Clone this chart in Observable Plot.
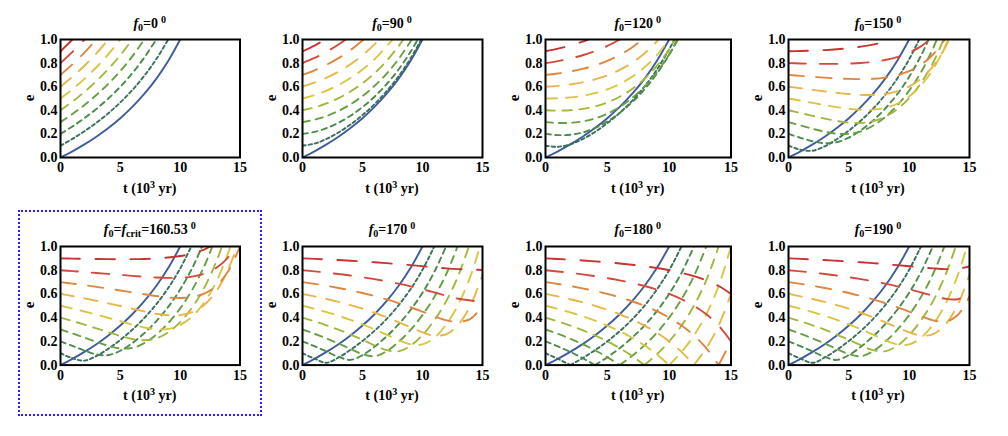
<!DOCTYPE html>
<html><head><meta charset="utf-8">
<script src="https://cdn.jsdelivr.net/npm/d3@7"></script>
<script src="https://cdn.jsdelivr.net/npm/@observablehq/plot@0.6"></script>
<style>
body{margin:0;background:#fff;}
#wrap{position:relative;width:1008px;height:436px;overflow:hidden;font-family:'Liberation Serif','Times New Roman',serif;font-weight:bold;color:#000;}
.ttl,.xl{position:absolute;font-size:14px;white-space:nowrap;transform:translateX(-50%);line-height:1;}
.sb{font-size:0.72em;position:relative;top:0.3em;}
.sp{font-size:0.72em;position:relative;top:-0.5em;}
.ttl .sp{margin-left:3px;}
.yl{position:absolute;font-size:15px;line-height:1;transform:translate(-50%,-50%) rotate(-90deg);}
.box{position:absolute;left:18px;top:210px;width:240px;height:202px;border:2px dotted #2323ee;}
.pl{position:absolute;}
</style></head><body><div id="wrap"><div class="box"></div></div>
<script>
// ---------- data ----------
const T = [0,1,2,3,4,5,6,7,8,9,10,11,12,13,14,15];
const E0 = [0.1,0.2,0.3,0.4,0.5,0.6,0.7,0.8,0.9];
const xTicks = [0,5,10,15];
const yTicks = [0,0.2,0.4,0.6,0.8,1.0];
const titles = ["0","90","120","150","crit","170","180","190"];
const eBlue = [0,.0526,.1111,.1765,.25,.3333,.4286,.5385,.6667,.8182,1.0];

// e values at t = 0,1,2,... ; end = time where e reaches 1 (null if at an integer step or never)
const e_f0 = [
 [.1,.1579,.2222,.2941,.375,.4667,.5714,.6923,.8333,1],
 [.2,.2632,.3333,.4118,.5,.6,.7143,.8462,1],
 [.3,.3684,.4444,.5294,.625,.7333,.8571,1],
 [.4,.4737,.5556,.6471,.75,.8667,1],
 [.5,.5789,.6667,.7647,.875,1],
 [.6,.6842,.7778,.8824,1],
 [.7,.7895,.8889,1],
 [.8,.8947,1],
 [.9,1]];
const end_f0 = [null,null,null,null,null,null,null,null,null];

const e_f90 = [
 [.1,.1177,.1571,.2121,.2795,.359,.4518,.56,.6872,.8381],
 [.2,.217,.2485,.2941,.3536,.4269,.5151,.6202,.7454,.8954],
 [.3,.3201,.3514,.3946,.4507,.5207,.6061,.7092,.8333,.9833],
 [.4,.4243,.4581,.5026,.559,.6289,.7143,.8177,.9428],
 [.5,.5289,.5666,.6141,.6731,.7454,.833,.939],
 [.6,.6338,.6759,.7276,.7906,.8667,.9583],
 [.7,.7387,.7857,.8422,.91,.9911],
 [.8,.8437,.8958,.9576],
 [.9,.9488]];
const end_f90 = [9.9,9.6,9.1,8.4,7.5,6.4,5.1,3.6,1.9];

const e_f120 = [
 [.1,.0912,.1111,.1556,.2165,.2906,.378,.4804,.6009,.7441,.9165],
 [.2,.1898,.1925,.2121,.25,.3055,.378,.4679,.5774,.71,.8718],
 [.3,.293,.294,.3057,.3307,.3712,.4286,.5044,.6009,.7216,.8718],
 [.4,.3974,.4006,.4118,.433,.4667,.5151,.5808,.6667,.7767,.9165],
 [.5,.5021,.5092,.5228,.5449,.5774,.6227,.6837,.7638,.8672,1],
 [.6,.607,.6186,.6363,.6614,.696,.7423,.8031,.8819,.9833],
 [.7,.712,.7286,.751,.7806,.8192,.869,.9326],
 [.8,.8171,.8389,.8665,.9014,.9452,1],
 [.9,.9222,.9493,.9825]];
const end_f120 = [10.42,10.67,10.71,10.5,null,9.14,7.85,null,3.45];

const e_f150 = [
 [.1,.0652,.0575,.095,.1549,.2278,.3131,.4125,.5289,.6669,.8328],
 [.2,.167,.1377,.1208,.1294,.1681,.2307,.3125,.4131,.5351,.6835,.8663],
 [.3,.2715,.2435,.2187,.2019,.2004,.2218,.2693,.3422,.4404,.5664,.7259,.9295],
 [.4,.3764,.3526,.3298,.3098,.296,.2933,.3077,.3451,.4095,.5043,.6342,.8074],
 [.5,.4815,.4627,.4443,.4272,.4131,.4045,.4053,.4203,.4556,.5176,.6134,.7516,.9458],
 [.6,.5866,.5731,.56,.5479,.5378,.5311,.5302,.5383,.56,.6013,.6701,.7765,.9346],
 [.7,.6918,.6838,.6765,.6702,.6659,.6644,.6673,.6771,.6969,.7315,.7877,.8751],
 [.8,.797,.7946,.7933,.7934,.7956,.8009,.8105,.8262,.8508,.8881,.9438],
 [.9,.9022,.9055,.9103,.9171,.9264,.9393,.9569,.981]];
const end_f150 = [10.83,11.61,12.29,12.85,13.23,13.32,12.95,11.72,8.61];

const e_fcrit = [
 [.1,.0583,.0376,.0764,.1386,.2123,.2977,.3967,.5126,.6496,.8142],
 [.2,.1619,.1232,.0906,.0846,.1209,.1855,.2687,.3695,.4906,.637,.8167],
 [.3,.2667,.2316,.1956,.1623,.1403,.1449,.1853,.2567,.3542,.4782,.6339,.8314],
 [.4,.3718,.3417,.3098,.2771,.2456,.22,.2093,.2255,.2763,.3626,.4852,.6493,.8678],
 [.5,.477,.4523,.4259,.3981,.3695,.3415,.3172,.3022,.3055,.3382,.4095,.5263,.6979,.943],
 [.6,.5822,.5631,.5427,.521,.4983,.4751,.4525,.4329,.4201,.421,.4458,.5073,.6201,.8031],
 [.7,.6874,.674,.6598,.6447,.629,.6128,.5969,.5822,.5707,.5658,.5732,.6023,.6673,.7891,1],
 [.8,.7927,.785,.777,.7688,.7606,.7525,.745,.739,.7356,.7369,.7464,.7702,.8181,.9071],
 [.9,.8979,.896,.8944,.8932,.8927,.8932,.8951,.8993,.907,.9197,.9405,.9739]];
const end_fcrit = [10.93,11.83,12.69,13.49,14.19,14.74,null,14.65,12.54];

const e_f170 = [
 [.1,.0542,.0194,.064,.1287,.2033,.289,.3879,.5034,.6399,.8038],
 [.2,.159,.1144,.0687,.0436,.0845,.1553,.2414,.3433,.4644,.61,.7883],
 [.3,.2641,.2247,.1818,.1359,.0922,.0747,.1161,.1947,.2965,.4222,.5774,.7725],
 [.4,.3693,.3356,.2984,.2575,.2131,.1669,.1264,.1162,.1623,.2536,.3796,.5437,.7581],
 [.5,.4746,.4466,.4156,.3813,.3433,.3016,.2566,.2113,.1757,.1743,.2315,.3456,.5141,.7501],
 [.6,.5798,.5576,.533,.5057,.4753,.4414,.4038,.3624,.3186,.2765,.2487,.2615,.3423,.5029,.7608],
 [.7,.6851,.6686,.6505,.6303,.6078,.5827,.5546,.5231,.4881,.45,.4109,.3772,.3651,.39,.5],
 [.8,.7903,.7797,.768,.755,.7407,.7246,.7067,.6866,.6642,.6392,.6121,.5841,.5592,.545,.535],
 [.9,.8956,.8908,.8856,.8799,.8737,.8669,.8594,.8514,.8427,.8335,.8241,.8155,.8095,.806,.802]];
const end_f170 = [10.98,11.96,12.92,13.86,14.78,null,null,null,null];

const e_f180 = [
 [.1,.0526,0,.0588,.125,.2,.2857,.3846,.5,.6364,.8,1],
 [.2,.1579,.1111,.0588,0,.0667,.1429,.2308,.3333,.4545,.6,.7778,1],
 [.3,.2632,.2222,.1765,.125,.0667,0,.0769,.1667,.2727,.4,.5556,.75,1],
 [.4,.3684,.3333,.2941,.25,.2,.1429,.0769,0,.0909,.2,.3333,.5,.7143,1],
 [.5,.4737,.4444,.4118,.375,.3333,.2857,.2308,.1667,.0909,0,.1111,.25,.4286,.6667,1],
 [.6,.5789,.5556,.5294,.5,.4667,.4286,.3846,.3333,.2727,.2,.1111,0,.1429,.3333,.6],
 [.7,.6842,.6667,.6471,.625,.6,.5714,.5385,.5,.4545,.4,.3333,.25,.1429,0,.2],
 [.8,.7895,.7778,.7647,.75,.7333,.7143,.6923,.6667,.6364,.6,.5556,.5,.4286,.3333,.2],
 [.9,.8947,.8889,.8824,.875,.8667,.8571,.8462,.8333,.8182,.8,.7778,.75,.7143,.6667,.6]];
const end_f180 = [null,null,null,null,null,null,null,null,null];

const e_f190 = [
 [.1,.0542,.0194,.064,.1287,.2033,.289,.3879,.5034,.6399,.8038],
 [.2,.159,.1144,.0687,.0436,.0845,.1553,.2414,.3433,.4644,.61,.7883],
 [.3,.2641,.2247,.1818,.1359,.0922,.0747,.1161,.1947,.2965,.4222,.5774,.7725],
 [.4,.3693,.3356,.2984,.2575,.2131,.1669,.1264,.1162,.1623,.2536,.3796,.5437,.7581],
 [.5,.4746,.4466,.4156,.3813,.3433,.3016,.2566,.2113,.1757,.1743,.2315,.3456,.5141,.7501],
 [.6,.5798,.5576,.533,.5057,.4753,.4414,.4038,.3624,.3186,.2765,.2487,.2615,.3423,.5029,.7608],
 [.7,.6851,.6686,.6505,.6303,.6078,.5827,.5546,.5231,.4881,.45,.4109,.3772,.3651,.42,.58],
 [.8,.7903,.7797,.768,.755,.7407,.7246,.7067,.6866,.6642,.6392,.6121,.5841,.5592,.555,.6],
 [.9,.8956,.8908,.8856,.8799,.8737,.8669,.8594,.8514,.8427,.8335,.8241,.8155,.8095,.812,.832]];
const end_f190 = [10.98,11.96,12.92,13.86,14.78,null,null,null,null];

// ---------- styles ----------
const blueColor = "#3f5c9c";
const colors = ["#3a6f5c","#4a8a4a","#66a040","#a2b73c","#d9c640","#e9b548","#e0853c","#d44a3a","#c9322f"];
const dashes = ["3.4,2.8","5.4,4.4","7.4,6","9.4,7.6","11.4,9.2","13.4,10.8","15.4,12.4","17.4,14","19.4,15.6"];

const panels = [
 {e:e_f0, end:end_f0}, {e:e_f90, end:end_f90}, {e:e_f120, end:end_f120}, {e:e_f150, end:end_f150},
 {e:e_fcrit, end:end_fcrit}, {e:e_f170, end:end_f170}, {e:e_f180, end:end_f180}, {e:e_f190, end:end_f190}];

const cols = [[60,239.5],[302,482],[545,730.5],[787.5,968.5]];
const rowsY = [[39.3,157.3],[245.7,364.3]];
const ML=40, MR=8, MT=6, MB=24;
const wrap = document.getElementById("wrap");

function curveRows(arr, end) {
  const out = []; let seg = 0;
  arr.forEach((v,i) => {
    out.push({k:seg, t:T[i], e:v});
    if (v === 0 && i > 0 && i < arr.length-1) { seg++; out.push({k:seg, t:T[i], e:v}); }
  });
  if (end != null) out.push({k:seg, t:end, e:1});
  return out;
}

panels.forEach((p, idx) => {
  const c = idx % 4, r = Math.floor(idx/4);
  const [x0,x1] = cols[c], [y0,y1] = rowsY[r];
  const PW = x1-x0, PH = y1-y0;
  const marks = [
    Plot.axisX({ticks:xTicks, tickSize:0, tickPadding:5, label:null}),
    Plot.axisY({ticks:yTicks, tickSize:0, tickPadding:3, tickFormat:d=>d.toFixed(1), label:null}),
    Plot.line(eBlue.map((v,i)=>({t:T[i], e:v})), {x:"t", y:"e", stroke:blueColor, strokeWidth:1.9, curve:"catmull-rom", clip:true})
  ];
  p.e.forEach((arr,j) => {
    marks.push(Plot.line(curveRows(arr, p.end[j]), {x:"t", y:"e", z:"k", stroke:colors[j], strokeWidth:1.9,
      strokeDasharray:dashes[j], curve:"catmull-rom", clip:true}));
  });
  marks.push(Plot.frame({stroke:"#000", strokeWidth:2}));
  const svg = Plot.plot({
    width:ML+PW+MR, height:MT+PH+MB, marginLeft:ML, marginRight:MR, marginTop:MT, marginBottom:MB,
    x:{domain:[0,15]}, y:{domain:[0,1]},
    style:{fontFamily:"'Liberation Serif','Times New Roman',serif", fontWeight:"bold", fontSize:"14px", color:"#000", background:"transparent", overflow:"visible"},
    marks
  });
  const d = document.createElement("div");
  d.className = "pl"; d.style.left = (x0-ML)+"px"; d.style.top = (y0-MT)+"px";
  d.appendChild(svg); wrap.appendChild(d);

  const cx = (x0+x1)/2;
  const tt = document.createElement("div");
  tt.className = "ttl"; tt.style.left = cx+"px"; tt.style.top = (y0-22.5)+"px";
  const lab = titles[idx];
  tt.innerHTML = lab === "crit"
    ? '<i>f</i><span class="sb">0</span>=<i>f</i><span class="sb">crit</span>=160.53<span class="sp">0</span>'
    : '<i>f</i><span class="sb">0</span>='+lab+'<span class="sp">0</span>';
  wrap.appendChild(tt);

  const xl = document.createElement("div");
  xl.className = "xl"; xl.style.left = cx+"px"; xl.style.top = (y1+25)+"px";
  xl.innerHTML = 't (10<span class="sp">3</span> yr)';
  wrap.appendChild(xl);

  const yl = document.createElement("div");
  yl.className = "yl"; yl.style.left = (x0-31)+"px"; yl.style.top = ((y0+y1)/2)+"px";
  yl.textContent = "e";
  wrap.appendChild(yl);
});
</script></body></html>
